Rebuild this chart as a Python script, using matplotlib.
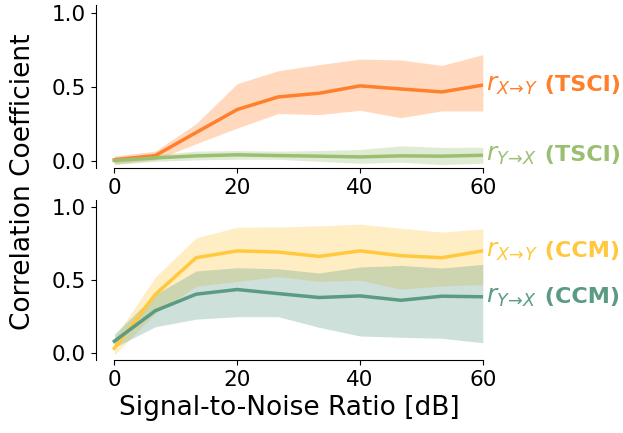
import numpy as np
import matplotlib
matplotlib.use("Agg")
import matplotlib.pyplot as plt

# SNR levels [dB]
snr = [0, 6.67, 13.33, 20, 26.67, 33.33, 40, 46.67, 53.33, 60]

# TSCI, X -> Y
tsci_xy = [0.005, 0.034, 0.19, 0.345, 0.43, 0.455, 0.505, 0.484, 0.464, 0.51]
tsci_xy_lo = [-0.023, 0.005, 0.114, 0.22, 0.318, 0.311, 0.34, 0.29, 0.336, 0.336]
tsci_xy_hi = [0.03, 0.064, 0.25, 0.52, 0.607, 0.648, 0.686, 0.68, 0.643, 0.716]

# TSCI, Y -> X
tsci_yx = [0.0, 0.018, 0.032, 0.039, 0.034, 0.03, 0.025, 0.032, 0.03, 0.036]
tsci_yx_lo = [-0.027, -0.005, 0.005, 0.009, 0.009, -0.005, -0.018, -0.011, -0.027, -0.018]
tsci_yx_hi = [0.027, 0.041, 0.064, 0.068, 0.064, 0.068, 0.075, 0.1, 0.089, 0.09]

# CCM, X -> Y
ccm_xy = [0.03, 0.40, 0.653, 0.70, 0.692, 0.662, 0.70, 0.667, 0.653, 0.70]
ccm_xy_lo = [-0.016, 0.27, 0.457, 0.49, 0.523, 0.49, 0.498, 0.436, 0.459, 0.468]
ccm_xy_hi = [0.10, 0.52, 0.79, 0.863, 0.865, 0.872, 0.884, 0.856, 0.829, 0.852]

# CCM, Y -> X
ccm_yx = [0.078, 0.288, 0.402, 0.434, 0.406, 0.379, 0.39, 0.36, 0.388, 0.384]
ccm_yx_lo = [0.035, 0.178, 0.23, 0.247, 0.247, 0.174, 0.114, 0.105, 0.098, 0.068]
ccm_yx_hi = [0.128, 0.40, 0.562, 0.584, 0.577, 0.548, 0.589, 0.60, 0.582, 0.607]

c_orange = "#ff7f2a"
c_lgreen = "#9bbf72"
c_yellow = "#ffc83d"
c_teal = "#5b9b83"

plt.rcParams["font.size"] = 15.5

fig = plt.figure(figsize=(6.23, 4.33), dpi=100)
ax1 = fig.add_axes([0.154, 0.612, 0.621, 0.376])
ax2 = fig.add_axes([0.154, 0.169, 0.621, 0.369])

panels = [
    (ax1, [(tsci_xy, tsci_xy_lo, tsci_xy_hi, c_orange, r"$r_{X\!\rightarrow\!Y}$", "(TSCI)"),
           (tsci_yx, tsci_yx_lo, tsci_yx_hi, c_lgreen, r"$r_{Y\!\rightarrow\!X}$", "(TSCI)")]),
    (ax2, [(ccm_xy, ccm_xy_lo, ccm_xy_hi, c_yellow, r"$r_{X\!\rightarrow\!Y}$", "(CCM)"),
           (ccm_yx, ccm_yx_lo, ccm_yx_hi, c_teal, r"$r_{Y\!\rightarrow\!X}$", "(CCM)")]),
]

for ax, series in panels:
    for mean, lo, hi, col, sym, tag in series:
        ax.fill_between(snr, lo, hi, color=col, alpha=0.3, lw=0)
        ax.plot(snr, mean, color=col, lw=2.5)
        t = ax.annotate(sym, xy=(snr[-1], mean[-1]), xytext=(2, 0),
                        textcoords="offset points", va="center", ha="left",
                        color=col, fontsize=18, annotation_clip=False)
        ax.annotate(" " + tag, xy=(1, 0.5), xycoords=t, va="center", ha="left",
                    color=col, fontsize=16, fontweight="bold",
                    annotation_clip=False)
    ax.set_xlim(-3, 60)
    ax.set_ylim(-0.05, 1.05)
    ax.set_xticks([0, 20, 40, 60])
    ax.set_yticks([0.0, 0.5, 1.0])
    ax.spines["top"].set_visible(False)
    ax.spines["right"].set_visible(False)
    ax.spines["bottom"].set_bounds(0, 60)

ax2.set_xlabel("Signal-to-Noise Ratio [dB]", fontsize=19)
fig.text(0.037, 0.58, "Correlation Coefficient", rotation=90,
         va="center", ha="center", fontsize=19)

fig.savefig("out.png", dpi=100)
